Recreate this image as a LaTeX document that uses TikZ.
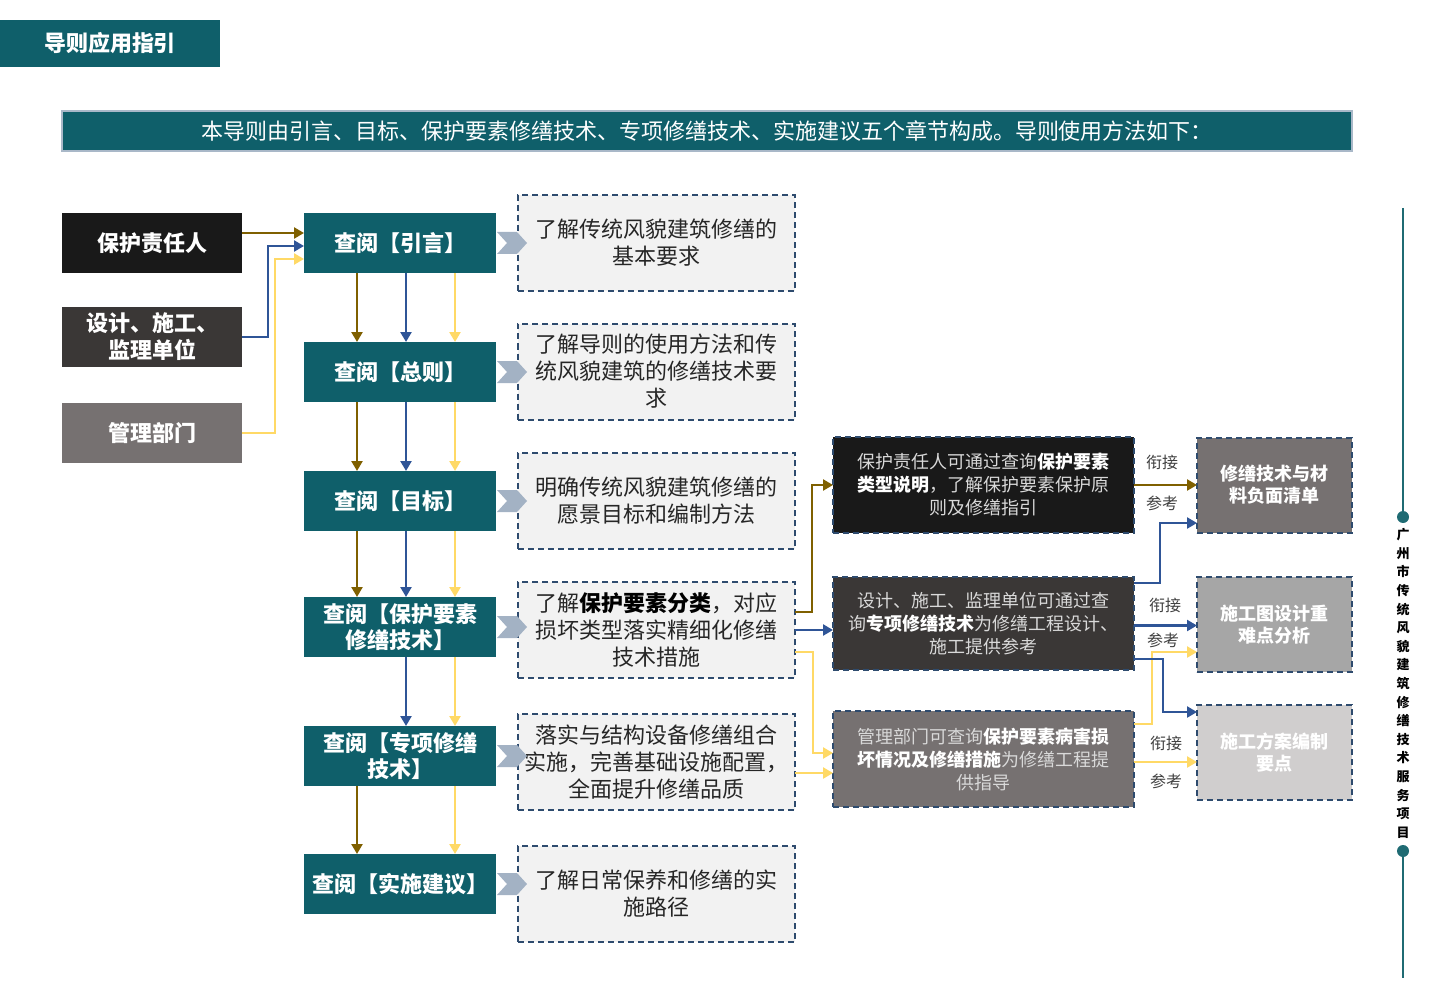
\documentclass[tikz,border=0pt]{standalone}
\usepackage{fontspec}
\setmainfont{Noto Sans CJK SC}
\usetikzlibrary{arrows.meta,calc}
\definecolor{teal1}{HTML}{0F5F6A}
\definecolor{bannerline}{HTML}{A9B8C8}
\definecolor{boxgray}{HTML}{F2F2F2}
\definecolor{dashblue}{HTML}{2E4B6E}
\definecolor{txt}{HTML}{262626}
\definecolor{lightt}{HTML}{D9D9D9}
\definecolor{chevc}{HTML}{A3B2C4}
\definecolor{brownc}{HTML}{7F6000}
\definecolor{bluec}{HTML}{2F5597}
\definecolor{yellowc}{HTML}{FFD966}
\definecolor{labc}{HTML}{404040}
\definecolor{k1}{HTML}{191919}
\definecolor{k2}{HTML}{3A3736}
\definecolor{k3}{HTML}{767171}
\definecolor{r2}{HTML}{A6A6A6}
\definecolor{r3}{HTML}{D0CECE}
\definecolor{vline}{HTML}{1F6B73}
\tikzset{
 every node/.style={inner sep=0pt, outer sep=0pt},
 titlebox/.style={fill=teal1, minimum width=220pt, minimum height=47pt, text=white, font=\bfseries\fontsize{22}{26}\selectfont},
 bannerbox/.style={fill=teal1, draw=bannerline, line width=2pt, minimum width=1290pt, minimum height=40pt, text=white, font=\fontsize{22}{26}\selectfont},
 tealbox/.style={fill=teal1, minimum width=192pt, minimum height=60pt, text=white, font=\bfseries\fontsize{22}{26}\selectfont, align=center},
 leftbox/.style={minimum width=180pt, minimum height=60pt, text=white, font=\bfseries\fontsize{22}{27}\selectfont, align=center},
 dashbd/.style={draw=dashblue, line width=2pt, dash pattern=on 6pt off 4pt},
 descbox/.style={dashbd, fill=boxgray, minimum width=277pt, minimum height=96pt, text=txt, font=\fontsize{22}{27}\selectfont, align=center},
 midbox/.style={dashbd, minimum width=301pt, text=lightt, font=\fontsize{18}{23}\selectfont, align=center},
 rbox/.style={dashbd, minimum width=155pt, minimum height=95pt, text=white, font=\bfseries\fontsize{18}{22}\selectfont, align=center},
 conn/.style={line width=2.5pt, -{Triangle[length=10pt,width=11pt]}},
 brn/.style={conn, draw=brownc},
 blu/.style={conn, draw=bluec},
 yel/.style={conn, draw=yellowc},
 lab/.style={font=\fontsize{16}{16}\selectfont, text=labc},
 chev/.style={fill=chevc},
}
\begin{document}
\begin{tikzpicture}[x=1pt,y=-1pt]
\useasboundingbox (0,0) rectangle (1441,995);
% title and banner
\node[titlebox] (title) at (110,43.5) {导则应用指引};
\node[bannerbox] (banner) at (707,131) {本导则由引言、目标、保护要素修缮技术、专项修缮技术、实施建议五个章节构成。导则使用方法如下：};
% left boxes
\node[leftbox, fill=k1] (lb1) at (152,243) {保护责任人};
\node[leftbox, fill=k2] (lb2) at (152,337) {设计、施工、\\监理单位};
\node[leftbox, fill=k3] (lb3) at (152,433) {管理部门};
% teal boxes
\node[tealbox] (t1) at (400,243) {查阅【引言】};
\node[tealbox] (t2) at (400,372) {查阅【总则】};
\node[tealbox] (t3) at (400,501) {查阅【目标】};
\node[tealbox] (t4) at (400,627) {查阅【保护要素\\修缮技术】};
\node[tealbox] (t5) at (400,756) {查阅【专项修缮\\技术】};
\node[tealbox] (t6) at (400,884) {查阅【实施建议】};
% description boxes
\node[descbox] (d1) at (656.5,243) {了解传统风貌建筑修缮的\\基本要求};
\node[descbox] (d2) at (656.5,371.5) {了解导则的使用方法和传\\统风貌建筑的修缮技术要\\求};
\node[descbox] (d3) at (656.5,501) {明确传统风貌建筑修缮的\\愿景目标和编制方法};
\node[descbox] (d4) at (656.5,630) {了解\textbf{\color{black}保护要素分类}，对应\\损坏类型落实精细化修缮\\技术措施};
\node[descbox] (d5) at (656.5,762) {落实与结构设备修缮组合\\实施，完善基础设施配置，\\全面提升修缮品质};
\node[descbox] (d6) at (656.5,893.5) {了解日常保养和修缮的实\\施路径};
% chevrons
\foreach \t in {t1,t2,t3,t4,t5,t6}{
  \fill[chev] ([xshift=1pt]\t.east) ++(0,-11) -- ++(20,0) -- ++(10,11) -- ++(-10,11) -- ++(-20,0) -- ++(10,-11) -- cycle;
}
% middle right boxes
\node[midbox, fill=k1, minimum height=96pt] (A) at (983.5,485) {保护责任人可通过查询\textbf{\color{white}保护要素}\\\textbf{\color{white}类型说明}，了解保护要素保护原\\则及修缮指引};
\node[midbox, fill=k2, minimum height=93pt] (B) at (983.5,623.5) {设计、施工、监理单位可通过查\\询\textbf{\color{white}专项修缮技术}为修缮工程设计、\\施工提供参考};
\node[midbox, fill=k3, minimum height=96pt] (C) at (983.5,759) {管理部门可查询\textbf{\color{white}保护要素病害损}\\\textbf{\color{white}坏情况及修缮措施}为修缮工程提\\供指导};
% right boxes
\node[rbox, fill=k3] (R1) at (1274.5,485) {修缮技术与材\\料负面清单};
\node[rbox, fill=r2] (R2) at (1274.5,624.5) {施工图设计重\\难点分析};
\node[rbox, fill=r3] (R3) at (1274.5,752.5) {施工方案编制\\要点};
% left connectors
\draw[brn] ([yshift=10pt]lb1.east) -- ([yshift=10pt]lb1.east -| t1.west);
\draw[blu] (lb2.east) -- ++(26,0) |- ([yshift=-3pt]t1.west);
\draw[yel] (lb3.east) -- ++(33,0) |- ([yshift=-16pt]t1.west);
% vertical connectors
\foreach \a/\b in {t1/t2,t2/t3,t3/t4}{
  \draw[brn] ([xshift=-43pt]\a.south) -- ([xshift=-43pt]\b.north);
  \draw[blu] ([xshift=6pt]\a.south) -- ([xshift=6pt]\b.north);
  \draw[yel] ([xshift=55pt]\a.south) -- ([xshift=55pt]\b.north);
}
\draw[blu] ([xshift=6pt]t4.south) -- ([xshift=6pt]t5.north);
\draw[yel] ([xshift=55pt]t4.south) -- ([xshift=55pt]t5.north);
\draw[brn] ([xshift=-43pt]t5.south) -- ([xshift=-43pt]t6.north);
\draw[yel] ([xshift=55pt]t5.south) -- ([xshift=55pt]t6.north);
% description to middle boxes
\draw[brn] ([yshift=18pt]d4.east) -- ++(17,0) |- (A.west);
\draw[blu] (d4.east) -- (d4.east -| B.west);
\draw[yel] ([yshift=-22pt]d4.east) -- ++(18,0) |- ([yshift=6pt]C.west);
\draw[yel] ([yshift=-11pt]d5.east) -- ([yshift=-11pt]d5.east -| C.west);
% middle to right boxes
\draw[yel] ([yshift=35pt]C.east) -- ++(18,0) |- ([yshift=-27.5pt]R2.west);
\draw[yel] ([yshift=-3pt]C.east) -- ([yshift=-3pt]C.east -| R3.west);
\draw[brn] (A.east) -- (A.east -| R1.west);
\draw[blu] ([yshift=40.5pt]B.east) -- ++(26,0) |- ([yshift=-38pt]R1.west);
\draw[blu] ([yshift=-2pt]B.east) -- ([yshift=-2pt]B.east -| R2.west);
\draw[blu] ([yshift=-35.5pt]B.east) -- ++(29,0) |- ([yshift=40.5pt]R3.west);
% labels
\node[lab] (la1) at (1162,462) {衔接};
\node[lab] (lc1) at (1162,503) {参考};
\node[lab] (la2) at (1165,605) {衔接};
\node[lab] (lc2) at (1163,640) {参考};
\node[lab] (la3) at (1166,743) {衔接};
\node[lab] (lc3) at (1166,781) {参考};
% vertical side line
\coordinate (v0) at (1403,208);
\coordinate (v1) at (1403,517);
\coordinate (v2) at (1403,851);
\coordinate (v3) at (1403,978);
\draw[vline, line width=2pt] (v0) -- (v1);
\draw[vline, line width=2pt] (v2) -- (v3);
\fill[vline] (v1) circle (6pt);
\fill[vline] (v2) circle (6pt);
\node[font=\bfseries\fontsize{13}{18.6}\selectfont, align=center] (vt) at (1403,683.5) {广\\州\\市\\传\\统\\风\\貌\\建\\筑\\修\\缮\\技\\术\\服\\务\\项\\目};
\end{tikzpicture}
\end{document}
